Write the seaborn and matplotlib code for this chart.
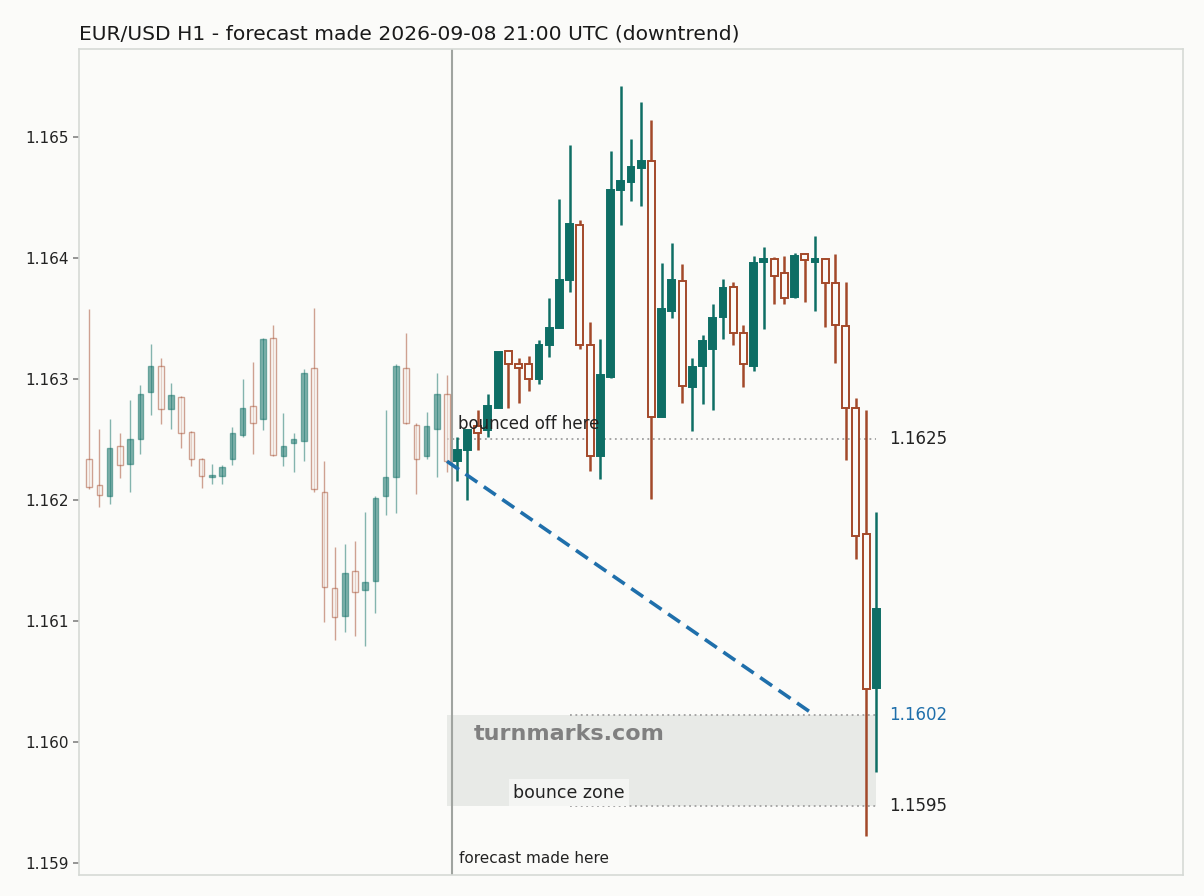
import seaborn as sns
import matplotlib.pyplot as plt
import matplotlib.ticker as ticker
import pandas as pd

# H1 candles, first 36 are history, the rest came after the forecast
opens = [1.16234, 1.16212, 1.16203, 1.16245, 1.16230, 1.16250, 1.16289, 1.16311, 1.16275, 1.16285,
         1.16256, 1.16234, 1.16219, 1.16220, 1.16234, 1.16254, 1.16278, 1.16267, 1.16334, 1.16236,
         1.16247, 1.16249, 1.16309, 1.16207, 1.16127, 1.16104, 1.16141, 1.16126, 1.16133, 1.16203,
         1.16219, 1.16309, 1.16262, 1.16236, 1.16259, 1.16288,
         1.16232, 1.16241, 1.16261, 1.16258, 1.16276, 1.16323, 1.16312, 1.16312, 1.16300, 1.16328,
         1.16342, 1.16382, 1.16427, 1.16328, 1.16236, 1.16302, 1.16456, 1.16463, 1.16474, 1.16480,
         1.16269, 1.16356, 1.16381, 1.16293, 1.16311, 1.16325, 1.16351, 1.16376, 1.16338, 1.16311,
         1.16397, 1.16399, 1.16388, 1.16368, 1.16403, 1.16397, 1.16399, 1.16379, 1.16344, 1.16276,
         1.16172, 1.16045]
highs = [1.16358, 1.16259, 1.16267, 1.16255, 1.16283, 1.16295, 1.16329, 1.16317, 1.16297, 1.16286,
         1.16257, 1.16235, 1.16230, 1.16229, 1.16260, 1.16300, 1.16314, 1.16334, 1.16345, 1.16272,
         1.16255, 1.16308, 1.16359, 1.16232, 1.16161, 1.16164, 1.16166, 1.16190, 1.16203, 1.16274,
         1.16312, 1.16338, 1.16264, 1.16273, 1.16305, 1.16303,
         1.16252, 1.16258, 1.16274, 1.16288, 1.16322, 1.16324, 1.16317, 1.16319, 1.16332, 1.16367,
         1.16449, 1.16493, 1.16431, 1.16347, 1.16333, 1.16488, 1.16542, 1.16498, 1.16529, 1.16514,
         1.16396, 1.16412, 1.16395, 1.16317, 1.16336, 1.16362, 1.16383, 1.16380, 1.16345, 1.16402,
         1.16409, 1.16401, 1.16402, 1.16404, 1.16404, 1.16418, 1.16400, 1.16403, 1.16380, 1.16284,
         1.16274, 1.16190]
lows = [1.16209, 1.16194, 1.16197, 1.16218, 1.16207, 1.16238, 1.16270, 1.16263, 1.16259, 1.16243,
        1.16228, 1.16210, 1.16213, 1.16213, 1.16229, 1.16252, 1.16238, 1.16258, 1.16236, 1.16228,
        1.16223, 1.16232, 1.16207, 1.16099, 1.16084, 1.16091, 1.16088, 1.16079, 1.16107, 1.16188,
        1.16189, 1.16263, 1.16205, 1.16234, 1.16219, 1.16223,
        1.16216, 1.16200, 1.16241, 1.16252, 1.16276, 1.16276, 1.16280, 1.16290, 1.16296, 1.16318,
        1.16342, 1.16372, 1.16325, 1.16224, 1.16217, 1.16301, 1.16427, 1.16447, 1.16443, 1.16201,
        1.16269, 1.16350, 1.16280, 1.16257, 1.16279, 1.16274, 1.16333, 1.16328, 1.16293, 1.16307,
        1.16341, 1.16362, 1.16362, 1.16367, 1.16364, 1.16356, 1.16343, 1.16313, 1.16233, 1.16151,
        1.15922, 1.15975]
closes = [1.16211, 1.16204, 1.16243, 1.16229, 1.16250, 1.16288, 1.16311, 1.16275, 1.16287, 1.16255,
          1.16234, 1.16220, 1.16221, 1.16227, 1.16255, 1.16276, 1.16264, 1.16333, 1.16237, 1.16245,
          1.16250, 1.16305, 1.16209, 1.16128, 1.16103, 1.16140, 1.16124, 1.16132, 1.16202, 1.16219,
          1.16311, 1.16264, 1.16234, 1.16261, 1.16288, 1.16232,
          1.16241, 1.16258, 1.16255, 1.16278, 1.16322, 1.16312, 1.16309, 1.16300, 1.16328, 1.16342,
          1.16382, 1.16428, 1.16328, 1.16236, 1.16303, 1.16456, 1.16464, 1.16475, 1.16480, 1.16269,
          1.16358, 1.16382, 1.16294, 1.16310, 1.16331, 1.16350, 1.16375, 1.16338, 1.16312, 1.16396,
          1.16399, 1.16385, 1.16367, 1.16402, 1.16398, 1.16399, 1.16379, 1.16345, 1.16276, 1.16170,
          1.16044, 1.16110]
n_hist = 36

forecast_start = 1.16232
forecast_target = 1.16022
bounce_level = 1.1625
zone_low = 1.15947
zone_high = 1.16022

title = "EUR/USD H1 - forecast made 2026-09-08 21:00 UTC (downtrend)"

bg = "#fbfbf9"
up_col = "#0e6e65"
dn_col = "#a3492a"

df = pd.DataFrame({"open": opens, "high": highs, "low": lows, "close": closes})
df["x"] = range(len(df))
df["up"] = df["close"] >= df["open"]
df["hist"] = df["x"] < n_hist

sns.set_theme(style="white", rc={
    "figure.facecolor": bg, "axes.facecolor": bg,
    "axes.edgecolor": "#d6dad6", "axes.linewidth": 1.2,
    "ytick.left": True, "ytick.color": "#888888", "ytick.labelcolor": "#222222",
    "ytick.major.size": 4, "ytick.labelsize": 11,
})
plt.rcParams["font.family"] = ["DejaVu Sans"]

fig = plt.figure(figsize=(12.04, 8.96), dpi=100)
ax = fig.add_axes([79 / 1204, 21 / 896, 1104 / 1204, 826 / 896])

# bounce zone shading and reference levels
last = len(df) - 1
ax.fill_between([n_hist - 1, last], zone_low, zone_high, color="#e8eae7", zorder=0, lw=0)
ax.hlines(bounce_level, n_hist - 1, last, colors="#a0a0a0", linestyles=(0, (1, 2)), lw=1.3, zorder=1)
ax.hlines([zone_high, zone_low], 47, last, colors="#a0a0a0", linestyles=(0, (1, 2)), lw=1.3, zorder=1)

# candles
for hist, alpha, width, wlw, blw in [(True, 0.5, 0.55, 1.0, 1.0), (False, 1.0, 0.68, 1.8, 1.4)]:
    part = df[df["hist"] == hist]
    for up, col in [(True, up_col), (False, dn_col)]:
        p = part[part["up"] == up]
        ax.vlines(p["x"], p["low"], p["high"], colors=col, lw=wlw, alpha=alpha, zorder=2)
        body = (p["close"] - p["open"]).abs().clip(lower=0.000012)
        ax.bar(p["x"], body, bottom=p[["open", "close"]].min(axis=1), width=width,
               color=col if up else bg, edgecolor=col, lw=blw, alpha=alpha, zorder=3)

# forecast path
fc = pd.DataFrame({"x": [n_hist - 1, 71], "y": [forecast_start, forecast_target]})
sns.lineplot(data=fc, x="x", y="y", ax=ax, color="#1f6fab", lw=2.6,
             linestyle=(0, (4, 2.2)), zorder=4)

ax.axvline(n_hist - 0.5, color="#a0a4a0", lw=1.5, zorder=1)

ax.text(36.1, 1.16263, "bounced off here", fontsize=12, color="#222222", va="center", zorder=5)
ax.text(36.2, 1.15904, "forecast made here", fontsize=11, color="#222222", va="center")
ax.text(37.6, 1.16007, "turnmarks.com", fontsize=16, fontweight="bold", color="#808080",
        va="center", zorder=5)
ax.text(41.5, 1.15958, "bounce zone", fontsize=12.5, color="#222222", va="center", zorder=5,
        bbox=dict(boxstyle="square,pad=0.25", fc="#f4f5f3", ec="none"))
ax.text(last + 1.25, bounce_level, f"{bounce_level:.4f}", fontsize=12, color="#222222", va="center")
ax.text(last + 1.25, zone_high, f"{zone_high:.4f}", fontsize=12, color="#1f6fab", va="center")
ax.text(last + 1.25, zone_low, f"{zone_low:.4f}", fontsize=12, color="#222222", va="center")

ax.set_xlim(-1, 107)
ax.set_ylim(1.158901, 1.165727)
ax.yaxis.set_major_locator(ticker.MultipleLocator(0.001))
ax.yaxis.set_major_formatter(ticker.FormatStrFormatter("%.3f"))
ax.set_xticks([])
ax.set_xlabel("")
ax.set_ylabel("")
for s in ax.spines.values():
    s.set_color("#d6dad6")
ax.set_title(title, loc="left", fontsize=14.6, color="#1a1a1a", pad=7)

plt.savefig("out.png", dpi=100, facecolor=bg)
